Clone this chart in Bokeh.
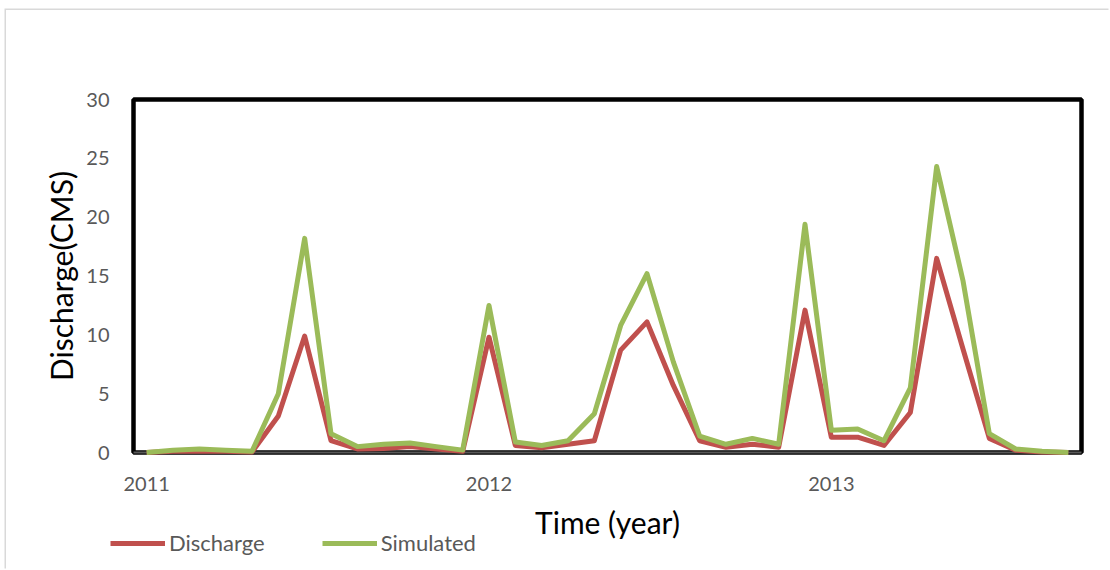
from bokeh.plotting import figure
from bokeh.models import FixedTicker, Legend, LegendItem, BoxAnnotation
from bokeh.embed import file_html
from bokeh.resources import INLINE

# ---- data (monthly, 36 categories) ----
month_index = list(range(36))
discharge = [0.0, 0.1, 0.1, 0.1, 0.05, 3.1, 9.9, 1.0, 0.3, 0.35, 0.5, 0.3,
             0.1, 9.8, 0.6, 0.4, 0.7, 1.0, 8.7, 11.1, 5.7, 1.0, 0.45, 0.7,
             0.45, 12.1, 1.3, 1.3, 0.6, 3.4, 16.5, 8.8, 1.2, 0.2, 0.05, 0.0]
simulated = [0.0, 0.2, 0.3, 0.2, 0.1, 5.0, 18.2, 1.6, 0.5, 0.7, 0.8, 0.5,
             0.2, 12.5, 0.9, 0.6, 1.0, 3.3, 10.8, 15.2, 7.7, 1.4, 0.7, 1.2,
             0.7, 19.4, 1.9, 2.0, 1.0, 5.5, 24.3, 14.6, 1.6, 0.3, 0.1, 0.0]
year_tick_positions = [0, 13, 26]
year_labels = ["2011", "2012", "2013"]
y_ticks = [0, 5, 10, 15, 20, 25, 30]

FONT = "Lato"
GRAY = "#595959"

# ---- layout (pixels inside the figure) ----
W, H = 1104, 560
box_l, box_r, box_t, box_b = 127, 1075, 89, 442
x0, x1 = -0.5, 35.5
y0, y1 = 0, 30
sx = (box_r - box_l) / (x1 - x0)
sy = (box_b - box_t) / (y1 - y0)
xr = (x0 - box_l / sx, x1 + (W - box_r) / sx)
yr = (y0 - (H - box_b) / sy, y1 + box_t / sy)

p = figure(width=W, height=H, output_backend="svg", toolbar_location=None,
           x_range=xr, y_range=yr,
           min_border=0, min_border_left=0, min_border_right=0,
           min_border_top=0, min_border_bottom=0,
           margin=(10, 0, 0, 6),
           styles={"box-shadow": "-1.5px -1.5px 0 0 #d9d9d9"})
p.background_fill_color = "white"
p.border_fill_color = "white"
p.grid.visible = False
p.outline_line_color = None

# plot-area frame
p.add_layout(BoxAnnotation(left=x0, right=x1, bottom=y0, top=y1,
                           fill_alpha=0, line_color="black", line_alpha=1.0,
                           line_width=4.5, level="underlay"))

r1 = p.line(month_index, discharge, line_color="#C0504D", line_width=5,
            line_join="round", level="annotation")
r2 = p.line(month_index, simulated, line_color="#9BBB59", line_width=5,
            line_join="round", level="annotation")

# x axis
xa = p.xaxis[0]
xa.fixed_location = y0
xa.bounds = (x0, x1)
xa.ticker = FixedTicker(ticks=year_tick_positions)
xa.major_label_overrides = {t: l for t, l in zip(year_tick_positions, year_labels)}
xa.major_tick_line_color = None
xa.minor_tick_line_color = None
xa.axis_line_color = GRAY
xa.axis_line_width = 2
xa.major_label_text_font = FONT
xa.major_label_text_font_size = "20px"
xa.major_label_text_color = GRAY
xa.major_label_standoff = 18
xa.axis_label = "Time (year)"
xa.axis_label_text_font = FONT
xa.axis_label_text_font_size = "30px"
xa.axis_label_text_font_style = "normal"
xa.axis_label_text_color = "black"
xa.axis_label_standoff = 10

# y axis
ya = p.yaxis[0]
ya.fixed_location = x0
ya.bounds = (y0, y1)
ya.ticker = FixedTicker(ticks=y_ticks)
ya.major_tick_line_color = None
ya.minor_tick_line_color = None
ya.axis_line_color = None
ya.major_label_text_font = FONT
ya.major_label_text_font_size = "20px"
ya.major_label_text_color = GRAY
ya.major_label_standoff = 18
ya.axis_label = "Discharge(CMS)"
ya.axis_label_text_font = FONT
ya.axis_label_text_font_size = "30px"
ya.axis_label_text_font_style = "normal"
ya.axis_label_text_color = "black"
ya.axis_label_standoff = 4

legend = Legend(items=[LegendItem(label="Discharge", renderers=[r1]),
                       LegendItem(label="Simulated", renderers=[r2])],
                location=(104, 14), orientation="horizontal",
                padding=0, margin=0, spacing=57, label_standoff=4,
                glyph_width=55, glyph_height=22, label_height=22,
                label_text_font=FONT, label_text_font_size="22px",
                label_text_color=GRAY,
                border_line_color=None, background_fill_alpha=0)
p.add_layout(legend, "center")

open("out.html", "w").write(file_html(p, INLINE))
